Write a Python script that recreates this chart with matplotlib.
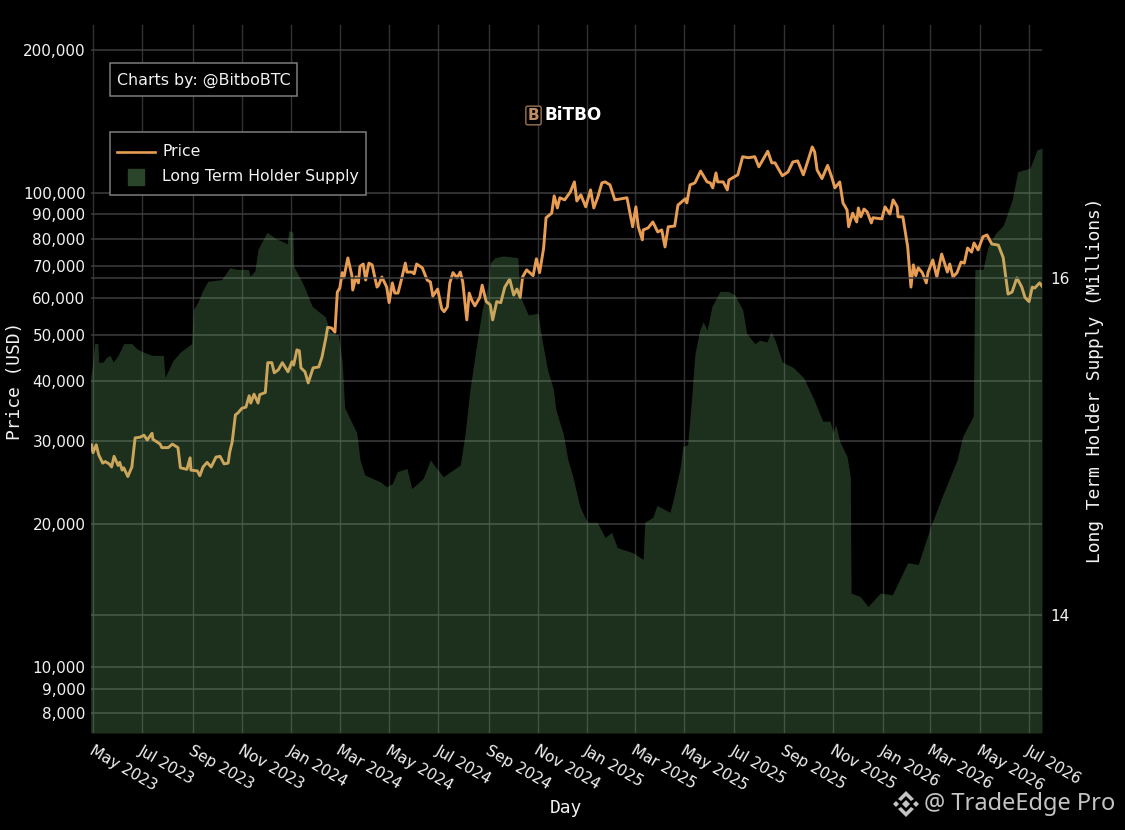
"""
    Long term holder supply vs BTC price, Bitbo style dark chart
"""
import matplotlib
matplotlib.use("Agg")
import matplotlib.pyplot as plt
import pandas as pd
from matplotlib.lines import Line2D
from matplotlib.patches import Polygon, Rectangle
from matplotlib.transforms import ScaledTranslation

# days counted from 1 May 2023
START = "2023-05-01"

price_days = [-2, 0, 4, 7, 12, 15, 20, 23, 26, 31, 33, 36, 38, 43, 48, 52, 58, 63, 67, 73, 74, 83, 85, 93, 98, 105, 108,
              116, 120, 121, 129, 132, 136, 141, 146, 152, 157, 162, 167, 169, 172, 176, 179, 184, 189, 193, 195, 199,
              204, 206, 213, 216, 221, 224, 229, 234, 241, 246, 248, 252, 255, 257, 262, 266, 272, 279, 283, 288, 290,
              295, 299, 302, 305, 308, 310, 315, 320, 321, 325, 328, 330, 334, 337, 341, 345, 351, 353, 357, 363, 366,
              370, 373, 377, 382, 386, 388, 394, 397, 400, 407, 413, 417, 420, 426, 431, 434, 438, 441, 445, 450, 454,
              457, 462, 465, 468, 472, 478, 481, 486, 491, 494, 499, 504, 509, 515, 520, 524, 528, 531, 536, 544, 548,
              552, 557, 560, 567, 570, 574, 577, 583, 590, 595, 598, 603, 609, 615, 619, 624, 629, 633, 639, 645, 660,
              667, 671, 674, 679, 680, 686, 692, 698, 703, 707, 711, 719, 723, 732, 734, 738, 744, 751, 759, 763, 766,
              770, 772, 779, 784, 786, 797, 803, 810, 818, 823, 834, 839, 843, 852, 859, 865, 871, 878, 884, 889, 892,
              895, 901, 908, 913, 917, 923, 927, 932, 934, 939, 944, 946, 949, 953, 957, 962, 964, 975, 979, 985, 989,
              994, 995, 1001, 1007, 1011, 1014, 1017, 1020, 1025, 1030, 1032, 1038, 1043, 1049, 1056, 1059, 1063, 1068,
              1073, 1077, 1081, 1086, 1089, 1094, 1100, 1105, 1111, 1119, 1125, 1131, 1136, 1142, 1148, 1152, 1157,
              1161, 1164, 1170, 1173]
price = [29400, 28300, 29400, 28000, 26900, 27100, 26800, 26400, 27800, 26600, 27000, 26000, 26300, 25200, 26400, 30400,
         30500, 30800, 30100, 31100, 30200, 29500, 29000, 29000, 29500, 29000, 26300, 26100, 27600, 26000, 25900, 25300,
         26400, 27000, 26400, 27700, 27800, 26800, 26900, 28400, 29800, 34000, 34300, 35100, 35300, 37300, 36000, 37600,
         36000, 37500, 37900, 43800, 43800, 41700, 42300, 43800, 41900, 44000, 43300, 46600, 46400, 42700, 41900, 39700,
         42700, 42900, 45000, 49600, 52000, 51800, 50800, 61700, 62900, 67800, 66100, 72800, 66800, 62300, 66400, 64500,
         69900, 70700, 65400, 71000, 70400, 63200, 63800, 66400, 63200, 58600, 64500, 61400, 61400, 66400, 71000, 68000,
         68000, 67400, 70700, 69400, 65400, 64800, 60500, 62600, 56900, 56100, 57400, 64500, 67800, 66100, 68000, 64800,
         53900, 61400, 59400, 57700, 60100, 63800, 58900, 58000, 53900, 58900, 58600, 63200, 65700, 60800, 62600, 60100,
         66400, 68700, 66800, 72500, 67800, 76400, 88500, 90500, 98400, 92800, 97500, 96500, 100300, 105300, 96000,
         98900, 93300, 101300, 92800, 97900, 104800, 105300, 103800, 96500, 97500, 84700, 93300, 84700, 79500, 83400,
         84200, 86700, 82600, 83400, 76800, 84700, 85000, 94100, 97000, 95100, 103800, 104800, 111000, 105300, 104800,
         102300, 110000, 105300, 105300, 101300, 106300, 109000, 119000, 118400, 119000, 113300, 122200, 115500, 115500,
         108500, 110500, 116000, 116600, 109000, 117200, 124800, 121800, 111600, 107000, 114100, 107900, 102300, 105300,
         95100, 91900, 84700, 90500, 86700, 92800, 88900, 92300, 91000, 86300, 88500, 88000, 93300, 90100, 96500, 93300,
         88900, 88900, 76800, 63200, 70400, 66800, 69400, 67800, 64500, 67800, 72100, 66400, 74200, 68000, 70700, 66400,
         67800, 71400, 71000, 76400, 74900, 78300, 75700, 80700, 81400, 77900, 77500, 73000, 61100, 61700, 66100, 63200,
         60100, 58900, 63200, 62900, 64500, 63500]

supply_days = [-3, -1, 2, 6, 7, 12, 17, 21, 25, 31, 38, 48, 54, 62, 73, 87, 89, 93, 99, 108, 122, 124, 130, 135, 142,
               159, 169, 178, 192, 194, 200, 204, 215, 227, 237, 240, 242, 247, 248, 260, 271, 287, 293, 303, 308, 311,
               326, 330, 336, 355, 363, 370, 376, 388, 394, 408, 417, 423, 433, 454, 460, 466, 470, 475, 481, 488, 491,
               497, 507, 525, 528, 538, 550, 555, 562, 569, 572, 577, 581, 587, 593, 602, 611, 623, 633, 641, 648, 667,
               680, 682, 692, 697, 713, 717, 726, 729, 735, 740, 744, 750, 754, 759, 765, 775, 785, 793, 803, 808, 818,
               824, 833, 838, 843, 852, 865, 878, 890, 902, 911, 915, 918, 923, 932, 936, 937, 948, 958, 973, 988, 997,
               1007, 1020, 1035, 1051, 1068, 1075, 1088, 1090, 1100, 1106, 1115, 1125, 1136, 1143, 1158, 1167, 1173]
supply = [15.41, 15.47, 15.61, 15.61, 15.50, 15.50, 15.53, 15.54, 15.50, 15.54, 15.61, 15.61, 15.58, 15.56, 15.54, 15.54,
          15.41, 15.45, 15.51, 15.56, 15.61, 15.81, 15.86, 15.92, 15.98, 15.99, 16.06, 16.05, 16.05, 16.01, 16.04, 16.17,
          16.27, 16.23, 16.21, 16.20, 16.28, 16.27, 16.07, 15.96, 15.83, 15.77, 15.68, 15.66, 15.50, 15.23, 15.08, 14.92,
          14.83, 14.79, 14.76, 14.78, 14.85, 14.87, 14.75, 14.81, 14.92, 14.88, 14.82, 14.89, 15.08, 15.34, 15.47, 15.63,
          15.81, 15.95, 16.09, 16.12, 16.13, 16.12, 15.89, 15.78, 15.79, 15.63, 15.45, 15.34, 15.22, 15.14, 15.08, 14.92,
          14.82, 14.64, 14.55, 14.55, 14.46, 14.49, 14.40, 14.37, 14.33, 14.55, 14.58, 14.65, 14.61, 14.68, 14.88, 15.00,
          15.01, 15.29, 15.55, 15.69, 15.74, 15.69, 15.83, 15.92, 15.92, 15.90, 15.81, 15.67, 15.61, 15.63, 15.62, 15.68,
          15.63, 15.50, 15.47, 15.41, 15.29, 15.15, 15.15, 15.08, 15.13, 15.03, 14.94, 14.82, 14.13, 14.11, 14.05, 14.13,
          14.12, 14.21, 14.31, 14.30, 14.52, 14.72, 14.92, 15.06, 15.18, 16.05, 16.05, 16.18, 16.26, 16.31, 16.46, 16.63,
          16.65, 16.76, 16.77]

price_ticks = [8000, 9000, 10000, 20000, 30000, 40000, 50000, 60000, 70000, 80000, 90000, 100000, 200000]
supply_ticks = [14, 16]
month_ticks = pd.date_range("2023-05-01", "2026-07-01", freq="2MS")

W, H = 1125, 830
GRID_H = "#3d3d3d"
GRID_V = "#323232"
TXT = "#f2f2f2"

fig = plt.figure(figsize=(W / 100, H / 100), dpi=100, facecolor="black")
ax = fig.add_axes([91 / W, 1 - 733 / H, (1042 - 91) / W, (733 - 25) / H], facecolor="black")

t0 = pd.Timestamp(START)
price_dates = t0 + pd.to_timedelta(price_days, unit="D")
supply_dates = t0 + pd.to_timedelta(supply_days, unit="D")

ax.plot(price_dates, price, color="#e89d55", lw=2.1, solid_joinstyle="round", zorder=3, label="Price")
ax.set_yscale("log")
ax.set_ylim(7260, 225500)
ax.set_xlim(t0 - pd.Timedelta(days=2.5), t0 + pd.Timedelta(days=1173))
ax.set_yticks(price_ticks)
ax.set_yticklabels([f"{v:,}" for v in price_ticks], fontsize=11, color=TXT)
ax.minorticks_off()
ax.set_xticks(month_ticks)
ax.set_xticklabels([d.strftime("%b %Y") for d in month_ticks], fontsize=11, color=TXT,
                   rotation=-30, ha="left", va="top", rotation_mode="anchor")
ax.tick_params(axis="both", length=0)
ax.tick_params(axis="y", pad=4)
ax.tick_params(axis="x", pad=7)
for lab in ax.get_xticklabels():
    lab.set_transform(lab.get_transform() + ScaledTranslation(1 / 72, 0, fig.dpi_scale_trans))
ax.grid(True, axis="y", color=GRID_H, lw=1.1)
ax.grid(True, axis="x", color=GRID_V, lw=1.0)
ax.set_axisbelow(True)

# secondary axis sits on top, the fill tints the line and the grid
ax2 = ax.twinx()
ax2.set_ylim(13.30, 17.50)
ax2.fill_between(supply_dates, supply, 13.30, color="#74c074", alpha=0.25, lw=0, zorder=2)
ax2.set_yticks(supply_ticks)
ax2.set_yticklabels([str(v) for v in supply_ticks], fontsize=11, color=TXT)
ax2.tick_params(axis="y", length=0, pad=6)
ax2.grid(True, axis="y", color=GRID_H, lw=1.1)
ax2.set_axisbelow(True)
ax2.patch.set_visible(False)

for a in (ax, ax2):
    for s in a.spines.values():
        s.set_visible(False)

fig.text(15 / W, 1 - 381 / H, "Price (USD)", rotation=90, ha="center", va="center", color=TXT,
         family="DejaVu Sans Mono", fontsize=12.85)
fig.text(1095 / W, 1 - 380 / H, "Long Term Holder Supply (Millions)", rotation=90, ha="center", va="center",
         color=TXT, family="DejaVu Sans Mono", fontsize=12.85)
fig.text(566 / W, 1 - 808 / H, "Day", ha="center", va="center", color=TXT, family="DejaVu Sans Mono", fontsize=12.85)


def px_box(x0, y0, x1, y1):
    fig.add_artist(Rectangle((x0 / W, 1 - y1 / H), (x1 - x0) / W, (y1 - y0) / H, transform=fig.transFigure,
                             facecolor="black", edgecolor="#7d7d7d", lw=1.1, zorder=5))


def poly(points, color):
    fig.add_artist(Polygon([(x / W, 1 - y / H) for x, y in points], closed=True, transform=fig.transFigure,
                           facecolor=color, edgecolor="none", zorder=6))


# credit box and legend
px_box(110, 63, 297, 96)
fig.text(117 / W, 1 - 80 / H, "Charts by: @BitboBTC", fontsize=11.4, color=TXT, va="center", zorder=7)
px_box(110, 132, 366, 195)
fig.add_artist(Line2D([117 / W, 155 / W], [1 - 152 / H] * 2, color="#e89d55", lw=1.9, zorder=7))
fig.add_artist(Line2D([136 / W], [1 - 177 / H], marker="s", ms=11, color="#2b452b", ls="none", zorder=7))
fig.text(162 / W, 1 - 152 / H, "Price", fontsize=11.3, color=TXT, va="center", zorder=7)
fig.text(162 / W, 1 - 177 / H, "Long Term Holder Supply", fontsize=11.3, color=TXT, va="center", zorder=7)

# Bitbo logo
fig.text(545 / W, 1 - 115.5 / H, "BiTBO", fontsize=12.2, fontweight="bold", color="white", va="center",
         family="DejaVu Sans", zorder=7)
fig.text(533.5 / W, 1 - 115.5 / H, "B", fontsize=11, color="#c08d5e", ha="center", va="center", fontweight="bold",
         bbox=dict(boxstyle="round,pad=0.12", facecolor="black", edgecolor="#9c7450", lw=1.0), zorder=7)

# watermark
fig.text(924 / W, 1 - 804 / H, "@ TradeEdge Pro", fontsize=17, color="#c4c4c4", va="center",
         family="Noto Sans", zorder=7)
cx, cy = 906, 804
mark = "#c4c4c4"
poly([(cx - 4, cy), (cx, cy - 4), (cx + 4, cy), (cx, cy + 4)], mark)
poly([(cx - 13, cy), (cx - 10, cy - 3), (cx - 7, cy), (cx - 10, cy + 3)], mark)
poly([(cx + 13, cy), (cx + 10, cy - 3), (cx + 7, cy), (cx + 10, cy + 3)], mark)
poly([(cx - 8, cy - 5), (cx, cy - 13), (cx + 8, cy - 5), (cx + 5, cy - 3), (cx, cy - 8), (cx - 5, cy - 3)], mark)
poly([(cx - 8, cy + 5), (cx, cy + 13), (cx + 8, cy + 5), (cx + 5, cy + 3), (cx, cy + 8), (cx - 5, cy + 3)], mark)

fig.savefig("out.png", dpi=100, facecolor="black")
